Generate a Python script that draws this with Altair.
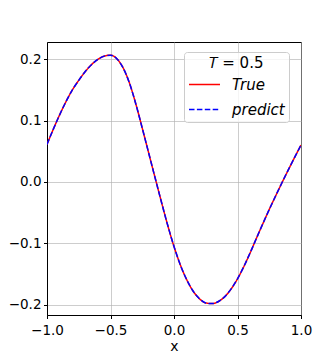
import altair as alt
import pandas as pd

x_vals = [-1.00, -0.95, -0.90, -0.85, -0.80, -0.75, -0.70, -0.65, -0.60, -0.55,
          -0.50, -0.45, -0.40, -0.35, -0.30, -0.25, -0.20, -0.15, -0.10, -0.05,
          0.00, 0.05, 0.10, 0.15, 0.20, 0.25, 0.30, 0.35, 0.40, 0.45,
          0.50, 0.55, 0.60, 0.65, 0.70, 0.75, 0.80, 0.85, 0.90, 0.95, 1.00]
true_vals = [0.061, 0.086, 0.1095, 0.131, 0.150, 0.1655, 0.1795, 0.191, 0.1995, 0.2050,
             0.2065, 0.2006, 0.1856, 0.1606, 0.1266, 0.0876, 0.0476, 0.0076, -0.0319, -0.0704,
             -0.1054, -0.1354, -0.1594, -0.1779, -0.1904, -0.1974, -0.1984, -0.195, -0.187, -0.1745,
             -0.158, -0.138, -0.1155, -0.0915, -0.068, -0.045, -0.023, -0.0015, 0.0195, 0.040, 0.060]
predict_vals = list(true_vals)
series = ["True", "predict"]

rows = []
for xv, yv in zip(x_vals, true_vals):
    rows.append({"x": xv, "u": yv, "series": series[0]})
for xv, yv in zip(x_vals, predict_vals):
    rows.append({"x": xv, "u": yv, "series": series[1]})
df = pd.DataFrame(rows)

minus = "replace(format(datum.value, '.1f'), '-', '\u2212')"

chart = alt.Chart(df).mark_line(strokeWidth=1.5, clip=True, interpolate="monotone").encode(
    x=alt.X("x:Q", title="x",
            scale=alt.Scale(domain=[-1, 1], nice=False, zero=False),
            axis=alt.Axis(values=[-1, -0.5, 0, 0.5, 1], labelExpr=minus,
                          labelPadding=4.5, titlePadding=3)),
    y=alt.Y("u:Q", title=None,
            scale=alt.Scale(domain=[-0.217, 0.228], nice=False, zero=False),
            axis=alt.Axis(values=[-0.2, -0.1, 0, 0.1, 0.2], labelExpr=minus,
                          labelPadding=2.5)),
    color=alt.Color("series:N",
                    scale=alt.Scale(domain=series, range=["#ff0000", "#0000ff"]),
                    legend=alt.Legend(title="\U0001D447 = 0.5")),
    strokeDash=alt.StrokeDash("series:N",
                              scale=alt.Scale(domain=series, range=[[1, 0], [5.5, 2.4]]),
                              legend=alt.Legend(title="\U0001D447 = 0.5")),
).properties(
    width=254, height=273,
    padding={"left": 39, "top": 34, "right": 20, "bottom": 38},
    autosize=alt.AutoSizeParams(type="none"),
).configure_view(
    stroke="black", strokeWidth=1
).configure_axis(
    labelFont="DejaVu Sans", titleFont="DejaVu Sans",
    labelFontSize=13.5, titleFontSize=14, titleFontWeight="normal",
    labelColor="black", titleColor="black",
    tickColor="black", tickSize=3.5, tickWidth=1,
    domainColor="black", domainWidth=1,
    gridColor="#b0b0b0", gridWidth=0.8, gridOpacity=0.8,
    labelFlush=False, labelOverlap=False,
).configure_legend(
    orient="none", legendX=137, legendY=10,
    fillColor="rgba(255,255,255,0.8)", strokeColor="#cccccc", cornerRadius=3,
    padding=4,
    titleFont="DejaVu Sans", titleFontSize=15, titleFontWeight="normal",
    titleColor="black", titleAnchor="middle", titlePadding=-3,
    labelFont="DejaVu Sans", labelFontSize=15, labelFontStyle="italic",
    labelColor="black", labelOffset=11,
    symbolType="stroke", symbolSize=961, symbolStrokeWidth=1.5,
    rowPadding=0,
)

chart.save("out.html", embed_options={"renderer": "svg", "actions": False})
